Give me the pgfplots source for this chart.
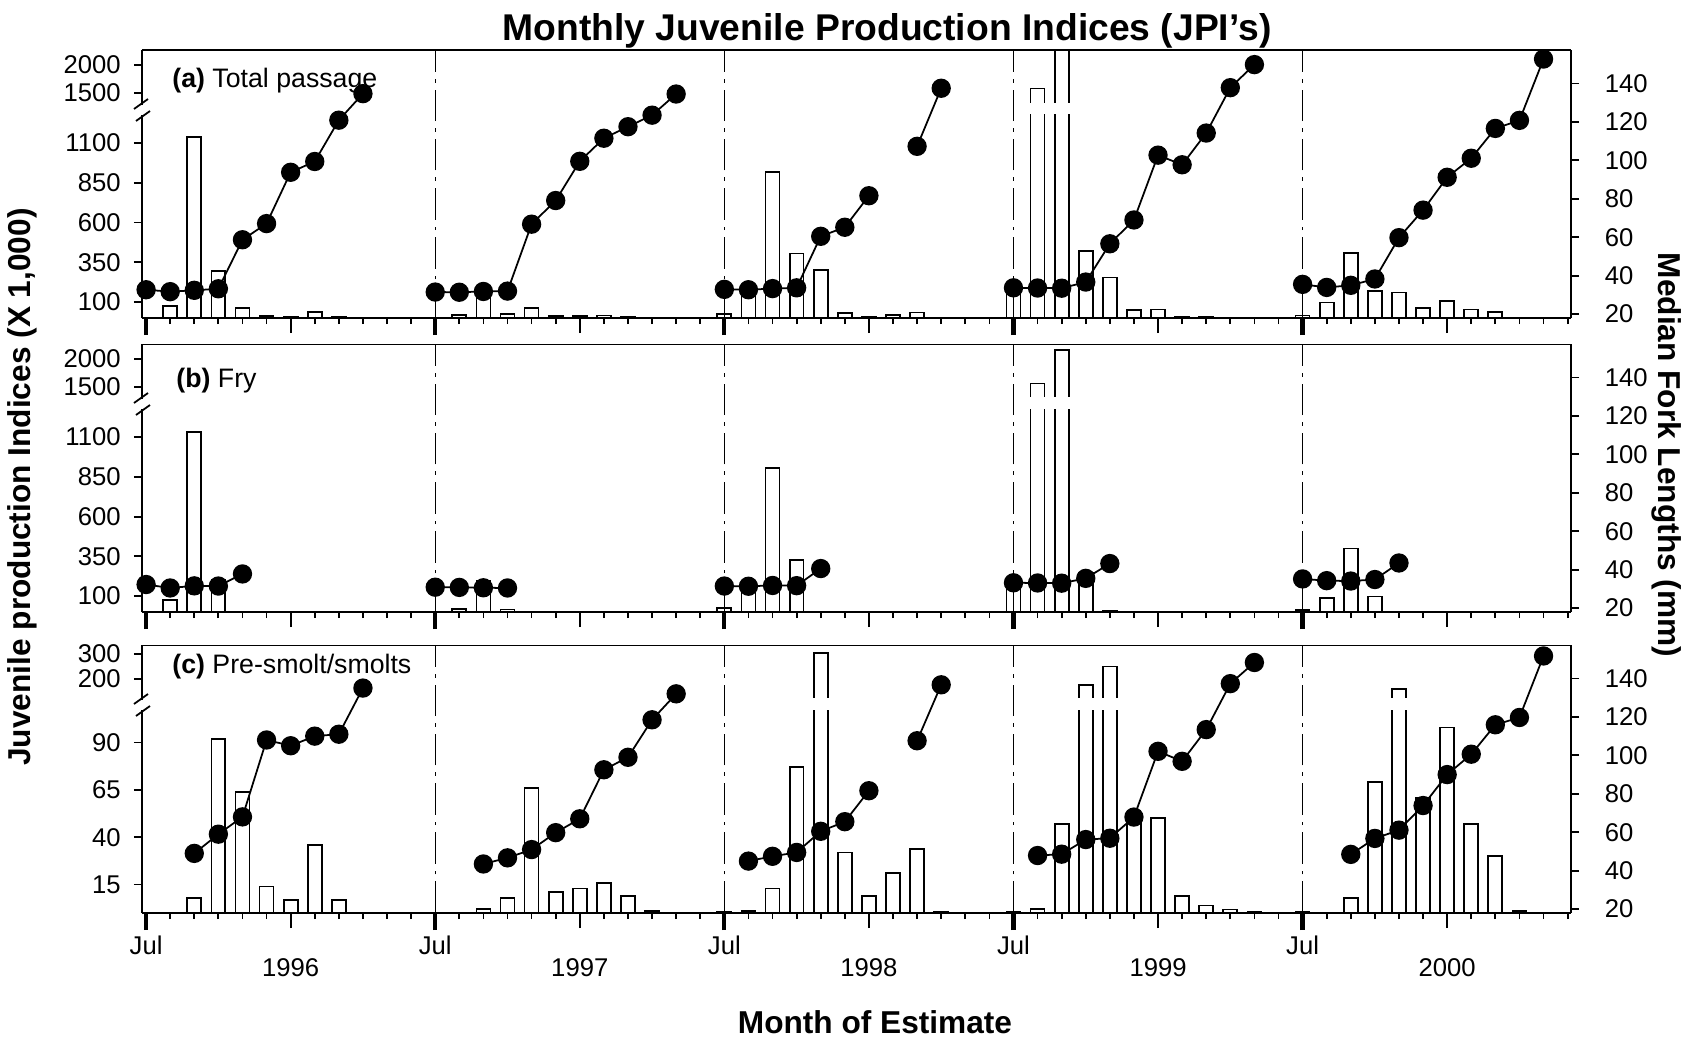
\documentclass[border=0pt]{standalone}
\usepackage{fontspec}
\setmainfont{Liberation Sans}
\usepackage{pgfplots}
\usepackage{pgfplotstable}
\pgfplotsset{compat=1.18}

\newcommand{\tf}{\fontsize{7.3}{8.6}\selectfont}

% month index m: 0 = Jul 1995 ... 59 = Jun 2000
% monthly JPI (x 1,000)
\pgfplotstableread{
m v
1 74
2 1140
3 294
4 63
5 14
6 7
7 38
8 7
12 3
13 19
14 205
15 27
16 61
17 12
18 13
19 16
20 9
21 2
24 24
25 165
26 918
27 405
28 300
29 33
30 10
31 21
32 34
33 2
36 180
37 1580
38 2250
39 420
40 255
41 50
42 54
43 9
44 4
45 2
48 15
49 97
50 410
51 172
52 160
53 65
54 106
55 53
56 37
57 3
}\barsA

\pgfplotstableread{
m v
1 76
2 1130
3 200
12 3
13 17
14 195
15 15
24 25
25 160
26 905
27 328
36 170
37 1560
38 2150
39 245
40 5
48 12
49 90
50 400
51 98
}\barsB

\pgfplotstableread{
m v
2 8
3 92
4 64
5 14
6 7
7 36
8 7
14 2
15 8
16 66
17 11
18 13
19 16
20 9
21 1
24 0.5
25 1
26 13
27 77
28 305
29 32
30 9
31 21
32 34
33 0.5
36 0.5
37 2
38 47
39 175
40 250
41 50
42 50
43 9
44 4
45 1.8
46 0.5
48 0.5
50 8
51 69
52 160
53 61
54 98
55 47
56 30
57 1
}\barsC

% median fork length (mm)
\pgfplotstableread{
m fl
0 32.7
1 31.7
2 32.4
3 33.2
4 58.7
5 67.1
6 93.8
7 99.4
8 120.9
9 134.7
10 nan
12 31.5
13 31.4
14 31.8
15 32.0
16 66.8
17 79.1
18 99.5
19 111.5
20 117.5
21 123.5
22 134.5
23 nan
24 32.9
25 32.7
26 33.3
27 33.7
28 60.5
29 65.2
30 81.6
31 nan
32 107.3
33 137.5
34 nan
36 33.7
37 33.6
38 33.5
39 36.7
40 56.6
41 69
42 102.7
43 97.7
44 114.2
45 137.8
46 149.8
47 nan
48 35.5
49 33.9
50 35.0
51 38.3
52 59.8
53 74.1
54 91.2
55 101.1
56 116.6
57 120.8
58 152.7
}\flA

\pgfplotstableread{
m fl
0 32.3
1 30.5
2 31.6
3 31.5
4 37.8
5 nan
12 30.9
13 30.8
14 30.6
15 30.5
16 nan
24 31.5
25 31.4
26 31.8
27 31.7
28 40.6
29 nan
36 33.2
37 33.1
38 33.0
39 35.5
40 43.2
41 nan
48 35.2
49 34.3
50 34.1
51 34.9
52 43.5
}\flB

\pgfplotstableread{
m fl
2 49
3 59
4 68
5 108
6 105
7 110
8 111
9 135
10 nan
14 43.5
15 46.7
16 51
17 59.8
18 67
19 92.5
20 99
21 118.5
22 132
23 nan
25 45
26 47.5
27 49.5
28 60.5
29 65.5
30 81.6
31 nan
32 107.6
33 136.7
34 nan
37 47.9
38 48.6
39 56.2
40 56.9
41 67.9
42 102.1
43 96.9
44 113.4
45 137.3
46 148.3
47 nan
50 48.5
51 56.8
52 61.1
53 73.9
54 90
55 100.6
56 115.9
57 119.7
58 151.7
}\flC

\tikzset{jul/.style={line width=0.4pt, dash pattern=on 9pt off 2pt on 1pt off 2pt}}

\pgfplotsset{
  base/.style={scale only axis, width=142.9mm, xmin=-0.17, xmax=59.14,
    axis line style={line width=0.7pt}, tick align=outside,
    every tick/.style={black, line width=0.5pt},
    tick label style={font=\tf},
    /pgf/number format/1000 sep={},
    /pgf/number format/assume math mode=true},
  lft/.style={base, axis y line*=left, axis x line=none,
    major tick length=0.8mm, yticklabel style={xshift=-0.1mm},
    ybar, bar width=0.58},
  lowAB/.style={lft, height=20.3mm, ymin=0, ymax=1277, ytick={100,350,600,850,1100}},
  upAB/.style={lft, height=5.5mm, ymin=1288, ymax=2260, ytick={1500,2000},
    restrict y to domain=1288:5000},
  lowC/.style={lft, height=20.3mm, ymin=0, ymax=107.2, ytick={15,40,65,90}},
  upC/.style={lft, height=5.5mm, ymin=116, ymax=336, ytick={200,300},
    restrict y to domain=116:1000},
  rgt/.style={base, height=26.8mm, ymin=18, ymax=157.4,
    axis y line*=right, axis x line*=bottom,
    ytick=\empty, extra y ticks={20,40,...,140},
    extra y tick style={major tick length=0.8mm, yticklabel style={xshift=1.35mm}},
    xtick={6,18,30,42,54}, major tick length=1.5mm,
    minor xtick={1,...,59}, minor tick length=0.6mm,
    extra x ticks={0,12,24,36,48},
    extra x tick style={major tick length=1.7mm, tick style={line width=1.2pt}},
    xticklabels={}, extra x tick labels={}},
  bars/.style={fill=white, draw=black, line width=0.5pt},
  dots/.style={black, line width=0.5pt, mark=*, mark size=2.5pt, unbounded coords=jump},
}

\newcommand{\julines}{%
  \draw[jul] (axis cs:12,18) -- (axis cs:12,157.4);
  \draw[jul] (axis cs:24,18) -- (axis cs:24,157.4);
  \draw[jul] (axis cs:36,18) -- (axis cs:36,157.4);
  \draw[jul] (axis cs:48,18) -- (axis cs:48,157.4);
  \draw[line width=0.7pt] (rel axis cs:0,1) -- (rel axis cs:1,1);}

% open the bottom of bars that cross the axis break
\newcommand{\openbottom}{%
  \draw[white, line width=1.3pt] (rel axis cs:0.002,0) -- (rel axis cs:1,0);}

\newcommand{\breakmarks}[1]{%
  \draw[line width=0.5pt] (13.6mm,#1+19.7mm) -- (15.0mm,#1+20.7mm);
  \draw[line width=0.5pt] (13.4mm,#1+20.9mm) -- (14.8mm,#1+21.9mm);}

\begin{document}
\begin{tikzpicture}
\useasboundingbox (0,0) rectangle (169.7mm,104.1mm);

% ---- (a) total passage
\begin{axis}[lowAB, at={(14.2mm,72.3mm)}, anchor=south west]
  \addplot[bars] table[x=m,y=v] {\barsA};
\end{axis}
\begin{axis}[upAB, at={(14.2mm,93.6mm)}, anchor=south west]
  \addplot[bars] table[x=m,y=v] {\barsA};
  \openbottom
\end{axis}
\begin{axis}[rgt, at={(14.2mm,72.3mm)}, anchor=south west]
  \julines
  \addplot[dots] table[x=m,y=fl] {\flA};
\end{axis}
\breakmarks{72.3mm}

% ---- (b) fry
\begin{axis}[lowAB, at={(14.2mm,42.9mm)}, anchor=south west]
  \addplot[bars] table[x=m,y=v] {\barsB};
\end{axis}
\begin{axis}[upAB, at={(14.2mm,64.2mm)}, anchor=south west]
  \addplot[bars] table[x=m,y=v] {\barsB};
  \openbottom
\end{axis}
\begin{axis}[rgt, at={(14.2mm,42.9mm)}, anchor=south west]
  \julines
  \addplot[dots] table[x=m,y=fl] {\flB};
\end{axis}
\breakmarks{42.9mm}

% ---- (c) pre-smolt / smolts
\begin{axis}[lowC, at={(14.2mm,12.8mm)}, anchor=south west]
  \addplot[bars] table[x=m,y=v] {\barsC};
\end{axis}
\begin{axis}[upC, at={(14.2mm,34.1mm)}, anchor=south west]
  \addplot[bars] table[x=m,y=v] {\barsC};
  \openbottom
\end{axis}
\begin{axis}[rgt, at={(14.2mm,12.8mm)}, anchor=south west,
    xticklabels={1996,1997,1998,1999,2000},
    xticklabel style={anchor=center, yshift=-4.0mm},
    extra x tick labels={Jul,Jul,Jul,Jul,Jul},
    extra x tick style={major tick length=1.7mm, tick style={line width=1.2pt},
      xticklabel style={yshift=2.5mm}}]
  \julines
  \addplot[dots] table[x=m,y=fl] {\flC};
\end{axis}
\breakmarks{12.8mm}

% ---- texts
\node[font=\fontsize{10.6}{12}\selectfont\bfseries] at (88.7mm,101.0mm)
  {Monthly Juvenile Production Indices (JPI's)};
\node[anchor=west, font=\fontsize{7.6}{9}\selectfont] at (16.0mm,96.0mm)
  {\textbf{(a)} Total passage};
\node[anchor=west, font=\fontsize{7.6}{9}\selectfont] at (16.4mm,66.0mm)
  {\textbf{(b)} Fry};
\node[anchor=west, font=\fontsize{7.6}{9}\selectfont] at (16.0mm,37.4mm)
  {\textbf{(c)} Pre-smolt/smolts};
\node[rotate=90, font=\fontsize{9}{11}\selectfont\bfseries] at (2.2mm,55.4mm)
  {Juvenile production Indices (X 1,000)};
\node[rotate=-90, font=\fontsize{9}{11}\selectfont\bfseries] at (166.7mm,58.6mm)
  {Median Fork Lengths (mm)};
\node[font=\fontsize{9}{11}\selectfont\bfseries] at (87.5mm,1.9mm)
  {Month of Estimate};
\end{tikzpicture}
\end{document}
